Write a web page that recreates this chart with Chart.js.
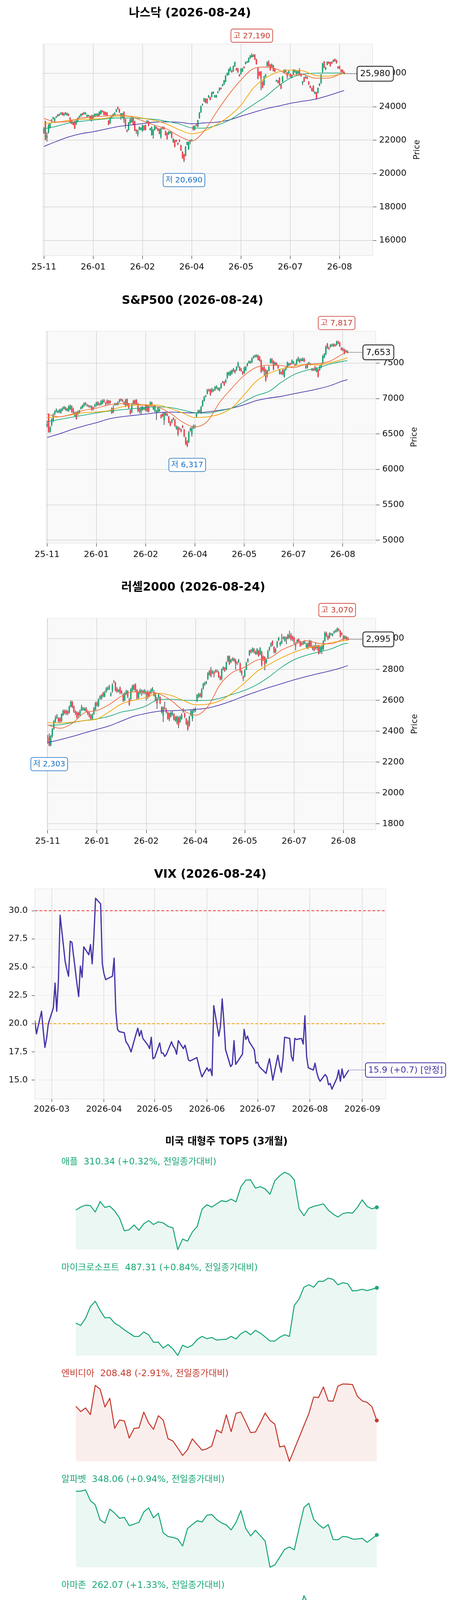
<!DOCTYPE html>
<html><head><meta charset="utf-8">
<script src="https://cdn.jsdelivr.net/npm/chart.js@4.4.1/dist/chart.umd.min.js"></script>
<style>
html,body{margin:0;padding:0;background:#fff;}
body{width:1159px;height:4311px;position:relative;overflow:hidden;}
canvas{position:absolute;left:0;}
</style></head><body>
<canvas id="c_ndx"></canvas><canvas id="c_spx"></canvas><canvas id="c_rut"></canvas><canvas id="c_vix"></canvas>
<canvas id="m0"></canvas><canvas id="m1"></canvas><canvas id="m2"></canvas><canvas id="m3"></canvas><canvas id="m4"></canvas>
<script>
// ===================== DATA =====================
const AS_OF = '2026-08-24';
const X_TICK_POS = [0,32,64,96,128,160,192];
const X_TICK_LABELS = ['25-11','26-01','26-02','26-04','26-05','26-07','26-08'];
const MA_IDX = [0,8,16,24,32,40,48,56,64,72,80,88,96,104,112,120,128,136,144,152,160,168,176,184,192,195];

const NDX_OPEN = [22427,23126,22155,22466,22777,23126,23282,23165,23359,23437,23537,23553,23646,23476,23646,23500,23553,23336,23165,23087,23126,22971,23126,23359,23437,23592,23553,23570,23413,23440,23437,23476,23320,23437,23490,23569,23476,23569,23747,23708,23670,23646,23165,23010,23320,23437,23515,23708,23996,23849,23476,23360,23685,23243,22606,22621,23010,23087,23282,23126,22621,22350,22621,22621,22544,22854,22893,23048,23126,22621,22310,22310,22621,22777,22700,22660,22194,22777,22777,22544,22427,22349,22427,22450,21883,21999,21999,21829,22015,21689,21301,21145,21068,21728,21456,21922,21961,22831,22660,22932,22815,23320,23670,24097,24330,24470,24470,24563,24563,24602,24796,24579,24579,24835,24967,25122,25247,25340,25495,25883,25922,26155,26155,26132,26427,26287,26287,25922,25961,26116,26388,26567,26644,26675,26909,26971,27009,27103,26831,26349,26077,26101,25495,25301,25806,26442,26676,26505,26388,26466,26272,25534,25557,25728,25340,25495,26039,26210,26039,26000,25961,25728,25961,26077,25961,26000,26155,25961,25417,25743,25728,25767,25495,25247,25107,25247,24796,24858,24835,25262,25417,26077,26699,26233,26520,26676,26660,26676,26699,26839,26776,26388,26427,26210,26194,26077];
const NDX_HIGH = [22777,23165,22466,22970,23050,23260,23400,23340,23450,23560,23580,23670,23680,23640,23690,23640,23600,23380,23200,23120,23160,23200,23360,23470,23590,23630,23690,23680,23540,23520,23470,23510,23510,23600,23600,23610,23720,23800,23790,23740,23700,23680,23200,23400,23470,23590,23660,23860,24005,23880,23620,23620,23720,23280,22640,23080,23280,23360,23320,23160,22650,22610,22810,22770,22930,22890,22920,23200,23160,22730,22810,22650,22890,22810,22730,22700,22730,22820,22810,22570,22460,22540,22540,22480,22110,22030,22030,21860,22050,21720,21330,21180,21640,21910,21920,22030,22060,22870,22880,22960,23210,23680,24060,24190,24530,24510,24500,24700,24600,24890,24920,24710,24720,24930,25160,25150,25360,25600,25880,26040,26270,26390,26190,26460,26700,26330,26320,25960,26300,26320,26420,26700,26740,26940,27090,27190,27150,27140,26870,26380,26110,26130,25530,25840,25950,26710,26780,26540,26580,26500,26310,25620,25590,25760,25370,25840,26230,26240,26070,26160,25990,25920,26240,26230,26150,26150,26300,25990,25540,25780,25840,25800,25530,25280,25140,25280,24920,24890,25150,25410,25950,26620,26730,26380,26710,26710,26690,26710,26830,26880,26810,26420,26460,26240,26230,26110];
const NDX_LOW = [22388,22016,21922,22400,22700,23080,23250,23130,23330,23410,23460,23530,23490,23450,23520,23470,23440,23040,22960,22900,22680,22930,23100,23330,23410,23490,23530,23540,23380,23420,23200,23130,23290,23410,23460,23410,23450,23540,23660,23490,23490,23450,22900,22980,23290,23410,23490,23680,23840,23640,23230,23330,23040,22700,22480,22590,22980,23060,22900,22550,22400,22230,22600,22600,22510,22590,22590,23020,22840,22590,22280,22100,22590,22670,22550,22360,22100,22660,22630,22280,22040,22320,22400,22120,21850,21580,21890,21720,21890,21360,20900,20690,21040,21700,21430,21760,21930,22590,22600,22840,22790,23300,23640,24070,24300,24220,24180,24530,24390,24570,24770,24550,24540,24810,24940,25040,25220,25310,25470,25860,25900,26120,26050,26100,26400,26160,26040,25810,25930,26090,26300,26540,26620,26650,26880,26950,26980,26800,26530,25660,25850,24990,25110,25270,25780,26420,26410,26160,26360,26120,26080,25500,25420,25300,25050,25470,26010,26050,25680,25970,25770,25700,25930,26050,25940,25970,25920,25810,25300,25480,25700,25660,25310,25110,24920,24880,24770,24450,24810,25240,25390,26050,26320,26210,26490,26570,26410,26570,26670,26710,26590,26280,26250,26070,26050,25950];
const NDX_CLOSE = [22699,22039,22271,22893,23010,23220,23360,23305,23413,23515,23490,23631,23515,23592,23553,23607,23476,23087,23010,22930,22699,23165,23320,23437,23553,23515,23646,23630,23500,23480,23243,23243,23476,23569,23569,23437,23693,23771,23693,23515,23515,23476,22932,23360,23437,23553,23631,23825,23864,23670,23592,23592,23243,22870,22544,23048,23243,23320,22932,22583,22544,22583,22777,22738,22893,22621,22621,23165,22870,22699,22777,22621,22854,22699,22580,22388,22699,22699,22660,22310,22077,22505,22505,22155,22077,21612,21922,21751,21922,21394,20928,20796,21611,21883,21883,21999,22015,22621,22839,22870,23180,23646,24020,24136,24485,24252,24252,24656,24423,24858,24889,24680,24680,24889,25122,25068,25324,25573,25844,26000,26233,26349,26077,26427,26660,26194,26077,25844,26272,26287,26334,26660,26699,26909,27048,27087,27087,26831,26559,25689,25883,25689,25145,25806,25922,26676,26442,26194,26543,26155,26116,25588,25456,25340,25107,25806,26194,26077,25844,26132,25806,25883,26210,26194,26116,26116,25945,25844,25510,25510,25806,25689,25340,25145,24951,24913,24889,24501,25122,25378,25922,26582,26349,26349,26676,26598,26442,26598,26800,26738,26621,26310,26287,26101,26077,25980];
const NDX_MA_A = [23305,23087,23126,23320,23398,23437,23514,23413,23165,22893,22660,22233,21961,22543,23670,24718,25604,26279,26380,26225,25891,25930,25712,25712,25945,26116];
const NDX_MA_B = [23009,23064,23188,23243,23266,23312,23452,23437,23320,23180,22955,22621,22388,22545,22932,23413,24097,25114,25720,26077,26194,26155,25883,25829,25938,25976];
const NDX_MA_C = [22683,22831,23025,23126,23204,23274,23336,23328,23305,23243,23126,22971,22738,22722,22885,23180,23639,24128,24610,25223,25712,25945,26008,26023,26023,26023];
const NDX_MA_D = [21627,21922,22194,22388,22505,22660,22815,22909,22994,23079,23095,23072,22986,23033,23079,23204,23437,23662,23879,24035,24206,24330,24447,24648,24889,24975];

const SPX_OPEN = [6613,6779,6530,6631,6686,6782,6819,6807,6807,6807,6838,6862,6871,6834,6825,6852,6889,6852,6760,6801,6779,6801,6856,6871,6898,6935,6898,6898,6882,6889,6871,6889,6904,6945,6912,6917,6935,6972,6935,6969,6967,6963,6862,6806,6912,6917,6917,6958,6996,6976,6945,6908,6985,6922,6834,6806,6926,6972,6978,6922,6852,6815,6843,6852,6834,6902,6889,6912,6940,6852,6825,6797,6815,6825,6769,6781,6696,6797,6782,6742,6668,6668,6719,6696,6576,6594,6566,6561,6613,6557,6447,6395,6387,6548,6502,6585,6594,6746,6797,6834,6797,6898,6972,7028,7074,7120,7125,7096,7120,7125,7148,7129,7120,7151,7236,7231,7231,7291,7336,7332,7354,7387,7397,7402,7452,7443,7415,7378,7360,7402,7465,7504,7507,7517,7576,7590,7592,7605,7590,7539,7439,7439,7402,7351,7397,7507,7554,7526,7480,7498,7461,7351,7369,7402,7310,7406,7443,7470,7494,7498,7498,7483,7489,7535,7550,7535,7535,7557,7434,7489,7489,7480,7415,7402,7446,7384,7410,7406,7443,7498,7581,7627,7771,7716,7734,7747,7766,7760,7760,7808,7790,7710,7701,7692,7660,7668];
const SPX_HIGH = [6686,6790,6610,6720,6790,6830,6860,6835,6852,6860,6880,6895,6885,6865,6905,6915,6905,6870,6815,6815,6830,6840,6890,6915,6945,6950,6925,6910,6905,6900,6885,6925,6955,6960,6940,6975,6990,6990,6950,6985,6980,6975,6875,6902,6940,6940,6960,6995,7000,6990,6960,6995,7000,6935,6845,6930,6980,6985,6990,6935,6865,6890,6895,6880,6920,6915,6900,6960,6955,6895,6910,6840,6885,6860,6780,6800,6810,6810,6795,6755,6680,6710,6735,6710,6620,6610,6595,6575,6625,6570,6460,6410,6540,6590,6600,6630,6630,6795,6840,6845,6895,6980,7035,7050,7135,7140,7140,7150,7135,7175,7185,7160,7158,7220,7250,7245,7275,7375,7380,7395,7410,7430,7410,7455,7520,7455,7430,7390,7450,7460,7505,7535,7535,7580,7605,7620,7625,7620,7600,7550,7450,7455,7415,7405,7460,7570,7570,7540,7520,7510,7475,7420,7385,7415,7415,7455,7520,7505,7505,7552,7530,7495,7560,7590,7565,7570,7580,7572,7475,7500,7520,7500,7430,7425,7460,7440,7420,7465,7495,7615,7640,7748,7785,7730,7770,7775,7780,7772,7817,7815,7800,7725,7720,7705,7690,7680];
const SPX_LOW = [6594,6520,6520,6610,6670,6770,6805,6795,6795,6790,6825,6850,6830,6820,6815,6840,6800,6790,6745,6705,6765,6790,6845,6860,6885,6905,6890,6875,6870,6830,6835,6875,6890,6900,6900,6905,6920,6945,6910,6920,6920,6930,6785,6795,6900,6905,6905,6945,6965,6950,6910,6880,6895,6860,6775,6795,6915,6915,6910,6810,6790,6780,6830,6840,6820,6810,6805,6900,6895,6840,6810,6700,6800,6815,6720,6740,6630,6755,6750,6655,6610,6655,6695,6600,6560,6470,6555,6525,6580,6455,6345,6317,6375,6535,6465,6570,6580,6735,6785,6795,6785,6885,6960,7020,7060,7100,7040,7085,7095,7110,7135,7115,7105,7140,7215,7180,7220,7280,7325,7320,7340,7375,7355,7390,7440,7390,7380,7335,7350,7390,7455,7495,7495,7505,7565,7580,7580,7540,7525,7365,7385,7320,7240,7300,7385,7495,7495,7400,7470,7465,7420,7340,7340,7330,7295,7395,7430,7460,7470,7485,7485,7455,7475,7525,7505,7525,7525,7515,7420,7425,7475,7470,7390,7390,7390,7370,7300,7395,7430,7485,7570,7615,7705,7690,7720,7735,7730,7735,7748,7772,7730,7680,7670,7625,7650,7640];
const SPX_CLOSE = [6640,6530,6594,6705,6769,6815,6843,6819,6838,6843,6862,6880,6843,6852,6889,6898,6815,6806,6801,6714,6815,6825,6875,6902,6930,6921,6908,6889,6893,6843,6852,6908,6941,6913,6923,6959,6976,6958,6922,6935,6935,6941,6797,6862,6926,6926,6945,6978,6976,6963,6926,6982,6911,6871,6788,6917,6963,6930,6926,6825,6825,6875,6880,6867,6908,6825,6819,6945,6908,6880,6898,6825,6871,6843,6732,6756,6797,6769,6764,6668,6622,6696,6708,6613,6603,6498,6579,6539,6594,6469,6358,6332,6524,6572,6585,6613,6613,6782,6825,6806,6880,6967,7022,7037,7120,7111,7055,7133,7111,7161,7172,7144,7142,7207,7225,7194,7262,7363,7369,7384,7397,7415,7369,7443,7502,7402,7397,7351,7434,7446,7494,7523,7522,7566,7590,7609,7609,7550,7539,7378,7402,7384,7262,7391,7446,7554,7507,7415,7507,7476,7434,7410,7351,7347,7402,7439,7507,7489,7480,7539,7517,7470,7544,7572,7517,7554,7563,7526,7461,7439,7507,7489,7402,7410,7402,7424,7310,7452,7480,7600,7627,7734,7720,7701,7756,7762,7742,7747,7797,7784,7742,7692,7686,7637,7673,7653];
const SPX_MA_A = [6782,6742,6779,6834,6865,6911,6928,6930,6904,6880,6792,6668,6600,6677,6945,7148,7328,7443,7472,7467,7437,7483,7493,7531,7631,7664];
const SPX_MA_B = [6732,6742,6771,6801,6810,6830,6880,6908,6911,6908,6860,6797,6732,6742,6779,6871,7055,7249,7354,7417,7456,7483,7474,7507,7554,7578];
const SPX_MA_C = [6673,6705,6736,6767,6797,6823,6841,6858,6875,6884,6873,6839,6801,6795,6827,6867,6958,7044,7101,7229,7336,7397,7435,7489,7526,7535];
const SPX_MA_D = [6452,6502,6563,6614,6659,6712,6742,6762,6782,6801,6810,6803,6797,6812,6834,6865,6913,6972,7007,7031,7068,7101,7138,7184,7249,7267];

const RUT_OPEN = [2349,2364,2311,2369,2417,2463,2488,2484,2482,2467,2505,2531,2531,2527,2522,2560,2590,2560,2527,2520,2518,2505,2537,2539,2535,2546,2527,2518,2501,2482,2514,2541,2585,2564,2611,2613,2647,2625,2657,2670,2676,2632,2659,2720,2712,2674,2659,2680,2659,2636,2602,2644,2657,2606,2611,2665,2697,2701,2665,2617,2649,2650,2660,2649,2649,2653,2649,2650,2661,2653,2602,2611,2619,2619,2554,2501,2552,2541,2520,2515,2497,2510,2509,2470,2456,2487,2463,2480,2527,2514,2480,2461,2438,2505,2482,2531,2535,2598,2623,2640,2623,2678,2703,2712,2740,2767,2796,2779,2783,2785,2792,2782,2754,2739,2800,2809,2802,2855,2885,2849,2861,2869,2861,2844,2849,2838,2790,2754,2758,2800,2852,2895,2923,2918,2931,2914,2900,2920,2900,2911,2883,2878,2844,2876,2928,2952,2982,2945,2914,2948,2990,2960,2973,3003,2987,3008,3003,3021,3024,3011,3007,2969,2977,2996,2979,2969,2967,2969,2945,2969,2952,2982,2948,2950,2939,2941,2952,2914,2927,2933,2987,3036,3015,3007,3028,3021,3038,3046,3049,3060,3049,3034,3015,3003,3009,3003];
const RUT_HIGH = [2375,2385,2375,2420,2470,2500,2510,2490,2490,2515,2540,2540,2540,2535,2565,2598,2595,2565,2535,2528,2525,2540,2570,2555,2555,2555,2535,2525,2510,2515,2555,2590,2592,2612,2632,2640,2655,2660,2685,2690,2700,2652,2710,2731,2720,2685,2672,2690,2665,2645,2652,2668,2665,2615,2680,2700,2705,2710,2672,2660,2675,2670,2668,2672,2660,2665,2660,2675,2685,2665,2650,2620,2645,2625,2560,2560,2590,2550,2525,2520,2528,2530,2515,2498,2500,2495,2500,2515,2548,2520,2485,2470,2500,2540,2540,2548,2555,2640,2648,2648,2678,2712,2720,2725,2782,2795,2815,2795,2790,2800,2800,2790,2760,2806,2820,2815,2852,2890,2890,2868,2878,2875,2868,2852,2868,2845,2795,2760,2800,2848,2872,2926,2930,2942,2938,2920,2938,2927,2944,2920,2890,2885,2870,2926,2948,2975,2988,2950,2938,2985,3010,2980,3030,3015,3015,3012,3030,3050,3035,3020,3012,2975,2995,3000,2985,2975,2985,2990,2970,2975,2992,2988,2955,2958,2975,2958,2960,2950,2958,2990,3045,3045,3022,3040,3036,3035,3052,3058,3070,3066,3055,3040,3022,3020,3015,3010];
const RUT_LOW = [2320,2303,2303,2360,2410,2455,2480,2455,2455,2460,2500,2510,2505,2505,2515,2555,2550,2520,2505,2480,2490,2500,2530,2535,2530,2522,2505,2490,2475,2475,2505,2535,2560,2558,2605,2605,2620,2620,2650,2665,2668,2625,2650,2712,2658,2650,2652,2640,2640,2590,2595,2635,2615,2565,2600,2655,2665,2655,2605,2610,2640,2630,2640,2640,2600,2610,2620,2640,2655,2625,2595,2545,2610,2575,2515,2460,2540,2515,2475,2465,2490,2500,2470,2462,2445,2420,2455,2475,2520,2485,2440,2404,2430,2498,2465,2520,2525,2590,2615,2620,2615,2670,2695,2705,2732,2760,2750,2770,2750,2778,2780,2745,2730,2730,2795,2785,2795,2848,2830,2842,2855,2850,2800,2830,2842,2780,2760,2725,2750,2795,2845,2888,2905,2910,2905,2895,2895,2883,2893,2820,2855,2795,2838,2870,2920,2945,2952,2905,2905,2940,2985,2952,2965,2995,2980,2965,2995,3000,2987,2985,2965,2925,2970,2975,2948,2955,2960,2965,2938,2932,2945,2940,2925,2918,2930,2925,2898,2905,2900,2925,2980,3010,2990,3000,3022,3015,3032,3040,3042,3048,3008,3020,2988,2995,2990,2988];
const RUT_CLOSE = [2345,2307,2369,2414,2465,2484,2499,2465,2463,2510,2531,2518,2518,2514,2557,2590,2557,2529,2518,2489,2505,2531,2557,2547,2547,2531,2515,2499,2482,2507,2547,2581,2569,2605,2625,2634,2628,2650,2676,2678,2690,2644,2699,2718,2665,2657,2665,2649,2650,2600,2644,2660,2623,2573,2670,2691,2674,2665,2613,2649,2665,2660,2652,2665,2640,2619,2627,2665,2676,2632,2644,2581,2636,2583,2524,2554,2547,2524,2482,2478,2520,2518,2476,2490,2493,2440,2493,2505,2539,2493,2448,2413,2493,2531,2531,2539,2541,2632,2640,2627,2670,2706,2712,2718,2775,2788,2760,2787,2771,2792,2787,2754,2737,2800,2813,2794,2844,2885,2836,2861,2869,2858,2838,2841,2861,2790,2771,2743,2792,2842,2866,2920,2914,2935,2914,2903,2931,2889,2937,2830,2866,2834,2863,2920,2942,2967,2960,2914,2930,2979,3004,2973,2986,3007,3007,3003,3024,3009,2996,2996,2977,2954,2990,2981,2954,2962,2977,2977,2962,2939,2986,2948,2937,2925,2950,2950,2903,2944,2950,2982,3036,3018,2998,3034,3030,3028,3045,3051,3066,3055,3015,3028,2994,3015,2996,2995];
const RUT_MA_A = [2440,2419,2451,2520,2534,2573,2628,2655,2651,2643,2600,2535,2504,2560,2703,2781,2815,2861,2874,2926,2960,2986,2969,2966,2997,3003];
const RUT_MA_B = [2455,2453,2459,2469,2479,2526,2577,2601,2619,2646,2632,2600,2571,2575,2598,2649,2715,2787,2834,2876,2912,2938,2953,2973,2986,2990];
const RUT_MA_C = [2438,2442,2456,2469,2480,2497,2524,2539,2564,2605,2607,2601,2599,2600,2614,2639,2665,2702,2754,2815,2863,2892,2913,2933,2965,2969];
const RUT_MA_D = [2326,2345,2366,2389,2412,2434,2466,2497,2515,2529,2533,2536,2541,2550,2571,2598,2629,2657,2684,2708,2733,2754,2774,2792,2815,2826];

const VIX_YEAR = 2026;
const VIX_DATES = ['02-19','02-20','02-23','02-24','02-25','02-26','02-27',
'03-02','03-03','03-04','03-05','03-06','03-09','03-10','03-11','03-12','03-13','03-16','03-17','03-18','03-19','03-20','03-23','03-24','03-25','03-26','03-27','03-30','03-31','04-01','04-02',
'04-06','04-07','04-08','04-09','04-10','04-13','04-14','04-15','04-16','04-17','04-20','04-21','04-22','04-23','04-24','04-27','04-28','04-29','04-30','05-01',
'05-04','05-05','05-06','05-07','05-08','05-11','05-12','05-13','05-14','05-15','05-18','05-19','05-20','05-21','05-22','05-26','05-27','05-28','05-29',
'06-01','06-02','06-03','06-04','06-05','06-08','06-09','06-10','06-11','06-12','06-15','06-16','06-17','06-18','06-22','06-23','06-24','06-25','06-26','06-29','06-30','07-01','07-02',
'07-06','07-07','07-08','07-09','07-10','07-13','07-14','07-15','07-16','07-17','07-20','07-21','07-22','07-23','07-24','07-27','07-28','07-29','07-30','07-31',
'08-03','08-04','08-05','08-06','08-07','08-10','08-11','08-12','08-13','08-14','08-17','08-18','08-19','08-20','08-21','08-24'];
const VIX_VALUES = [20.3,19.1,21.1,19.4,17.9,18.7,20.0,
21.4,23.6,21.1,23.8,29.6,25.5,24.8,24.2,27.3,27.2,23.5,22.4,25.1,24.1,26.8,26.1,27.0,25.3,27.7,31.1,30.6,25.3,24.4,23.9,
24.2,25.8,21.1,19.5,19.3,19.2,18.4,18.2,17.9,17.5,19.1,19.6,18.9,19.4,18.7,18.1,17.8,18.8,16.9,17.0,
18.3,17.4,17.4,17.1,17.3,18.4,18.0,17.8,17.3,18.5,17.8,18.1,17.5,16.8,16.7,17.0,16.4,15.8,15.3,
16.1,15.8,16.0,15.4,21.6,18.9,19.8,22.2,20.2,17.7,16.2,16.4,18.5,16.4,17.3,19.5,18.6,18.9,18.4,17.7,16.5,16.6,16.2,
15.6,16.3,16.9,16.0,15.0,17.2,16.3,15.7,16.9,18.8,18.7,17.1,16.7,18.7,18.6,18.7,18.2,20.7,17.1,16.1,
15.9,16.5,15.7,15.2,14.9,15.5,15.3,14.6,14.7,14.2,15.2,15.9,14.9,16.0,15.2,15.9];
const VIX_MONTHS = ['2026-03','2026-04','2026-05','2026-06','2026-07','2026-08','2026-09'];
const VIX_Y_TICKS = [15,17.5,20,22.5,25,27.5,30];
const VIX_LEVELS = [30,20];
const VIX_STATE = '안정';

const TOP5_NAMES = ['애플','마이크로소프트','엔비디아','알파벳','아마존'];
const TOP5_CHG = [0.32,0.84,-2.91,0.94,1.33];
const AAPL = [308.8,310.5,311.6,311.3,307.7,313.6,310.3,311.0,308.3,304.3,297.0,297.6,300.3,297.3,301.0,302.8,300.6,302.1,301.5,299.5,298.7,286.3,292.3,291.1,296.3,299.5,309.3,311.8,310.5,312.3,314.1,313.6,315.0,313.5,322.0,325.8,326.0,321.3,322.1,320.8,317.8,325.5,328.3,330.3,329.1,326.0,309.5,305.6,309.8,310.9,311.6,312.3,308.8,306.5,304.8,306.8,307.3,307.1,310.3,314.6,310.9,309.5,310.34];
const MSFT = [447.3,444.7,452.7,466.1,472.1,461.7,453.3,453.7,447.3,444.1,439.7,436.1,432.3,432.3,437.3,434.1,425.7,425.7,419.1,423.1,418.1,410.7,422.3,419.7,422.3,428.7,432.3,429.7,431.1,428.1,428.7,429.1,432.3,429.3,435.3,438.3,434.1,439.1,436.1,431.7,427.1,427.1,431.3,434.1,432.3,467.3,474.7,488.1,490.7,488.1,494.7,494.7,498.3,496.9,490.7,493.1,492.1,483.7,484.3,485.7,484.1,485.7,487.31];
const NVDA = [218.7,214.9,217.5,212.7,233.7,231.0,218.2,224.4,202.9,208.8,208.2,195.9,202.8,203.2,214.5,206.7,202.2,211.9,208.8,195.4,193.8,188.7,183.4,187.5,195.3,191.2,187.2,188.2,190.2,201.7,199.6,212.5,200.5,213.7,214.6,207.3,199.8,200.2,206.7,213.9,208.6,205.8,189.6,190.3,179.2,187.8,196.3,204.9,213.4,225.3,225.0,232.6,222.6,222.4,233.2,234.7,234.6,234.3,225.9,222.6,221.5,218.4,208.48];
const GOOGL = [379.6,379.6,380.6,372.8,369.8,358.9,356.6,366.7,363.8,360.1,360.7,354.8,355.9,357.1,364.6,367.6,360.4,363.7,349.6,346.9,346.3,345.1,340.1,352.6,355.6,358.3,357.4,362.3,362.8,359.2,356.8,355.3,351.7,357.1,365.6,352.9,347.3,351.4,347.6,343.6,324.8,326.5,332.0,337.6,339.4,337.3,352.9,367.9,370.9,359.3,355.6,352.9,355.6,344.8,344.6,347.0,346.6,345.1,345.1,345.7,342.7,345.3,348.06];
const AMZN = [264.5,269.6,271.4,268.8,261.6,257.6,252.8,255.8,249.8,249.2,248.4,243.6,246.5,243.8,249.8,249.8,243.2,248.6,239.6,240.7,240.7,234.8,239.6,245.3,243.8,246.5,247.2,248.3,249.6,247.8,250.4,249.2,250.8,250.8,256.8,252.8,250.5,252.9,251.0,248.9,240.2,239.4,238.8,238.2,234.6,241.4,270.0,279.2,273.8,270.2,270.0,272.0,274.7,270.2,266.0,264.5,262.7,261.6,260.0,265.2,260.6,259.7,262.07];

// ===================== STYLE =====================
const FONT = "'DejaVu Sans','Noto Sans CJK KR',sans-serif";
const C_UP = '#12a46d', C_DN = '#f43a46', C_WICK = '#4a4a4a';
const MA_COLORS = ['#f06b3e','#f4a300','#1fa97b','#4b3bad'];
const GRID = '#cdcdcd', PLOT_BG = '#f9f9f9', FRAME = '#e4e4e4', TXT = '#111';
Chart.defaults.font.family = FONT;

function drawBox(ctx, text, cx, cy, o) {
  ctx.save();
  ctx.font = o.size + 'px ' + FONT;
  const w = ctx.measureText(text).width + 2 * o.padX, h = o.h;
  const x = (o.left !== undefined) ? o.left : cx - w / 2;
  const y = cy - h / 2;
  ctx.beginPath(); ctx.roundRect(x, y, w, h, o.r || 5);
  ctx.fillStyle = '#fff'; ctx.fill();
  ctx.lineWidth = o.lw; ctx.strokeStyle = o.color; ctx.stroke();
  ctx.fillStyle = o.color; ctx.textAlign = 'center'; ctx.textBaseline = 'middle';
  ctx.fillText(text, x + w / 2, cy + 1);
  ctx.restore();
  return {x: x, y: y, w: w, h: h};
}
function areaBg(color) {
  return {id: 'areabg', beforeDraw(chart) {
    const a = chart.chartArea, ctx = chart.ctx;
    ctx.save(); ctx.fillStyle = color; ctx.fillRect(a.left, a.top, a.right - a.left, a.bottom - a.top); ctx.restore();
  }};
}
function fmt(v) { return Math.round(v).toLocaleString('en-US'); }
function dayOffset(y, mmdd) {
  const p = mmdd.split('-').map(Number);
  return (Date.UTC(y, p[0] - 1, p[1]) - Date.UTC(VIX_YEAR, 2, 1)) / 86400000;
}

// ===================== CANDLE CHARTS =====================
function candleChart(id, top, height, c) {
  const cv = document.getElementById(id);
  cv.width = 1159; cv.height = height; cv.style.top = top + 'px';
  const n = c.close.length;
  const wick = c.close.map((v, i) => ({x: i, y: [c.low[i], c.high[i]]}));
  const body = c.close.map((v, i) => ({x: i, y: [c.open[i], v]}));
  const bodyCol = c.close.map((v, i) => v >= c.open[i] ? C_UP : C_DN);
  const maSets = c.ma.map((arr, k) => ({
    type: 'line', data: arr.map((v, j) => ({x: MA_IDX[j], y: v})),
    borderColor: MA_COLORS[k], borderWidth: 1.8, pointRadius: 0,
    cubicInterpolationMode: 'monotone', order: 1
  }));
  let hi = 0, lo = 0;
  for (let i = 1; i < n; i++) { if (c.high[i] > c.high[hi]) hi = i; if (c.low[i] < c.low[lo]) lo = i; }
  const decor = {id: 'decor', afterDraw(chart) {
    const ctx = chart.ctx, a = chart.chartArea, xs = chart.scales.x, ys = chart.scales.y;
    ctx.save();
    ctx.strokeStyle = FRAME; ctx.lineWidth = 1;
    ctx.strokeRect(a.left, a.top, a.right - a.left, a.bottom - a.top);
    ctx.fillStyle = '#000'; ctx.textAlign = 'center'; ctx.textBaseline = 'middle';
    ctx.font = 'bold 30px ' + FONT;
    ctx.fillText(c.title + ' (' + AS_OF + ')', c.titleX, c.titleY);
    ctx.translate(c.priceX, (a.top + a.bottom) / 2);
    ctx.rotate(-Math.PI / 2);
    ctx.font = '21px ' + FONT; ctx.fillStyle = TXT;
    ctx.fillText('Price', 0, 0);
    ctx.restore();
    drawBox(ctx, '고 ' + fmt(c.high[hi]), xs.getPixelForValue(hi), ys.getPixelForValue(c.high[hi]) - 45.5,
      {size: 20, padX: 6, h: 34, lw: 1.6, color: '#c8392c'});
    drawBox(ctx, '저 ' + fmt(c.low[lo]), xs.getPixelForValue(lo), ys.getPixelForValue(c.low[lo]) + 46,
      {size: 20, padX: 6, h: 34, lw: 1.6, color: '#1c6fc0'});
    const last = c.close[n - 1], ly = ys.getPixelForValue(last);
    ctx.save(); ctx.font = '22px ' + FONT;
    const bw = ctx.measureText(fmt(last)).width + 16;
    ctx.restore();
    const bl = a.right + 7 - bw / 2;
    ctx.save(); ctx.strokeStyle = '#222'; ctx.lineWidth = 1.5; ctx.setLineDash([2, 2]);
    ctx.beginPath(); ctx.moveTo(xs.getPixelForValue(n - 1) + 2, ly); ctx.lineTo(bl, ly); ctx.stroke(); ctx.restore();
    drawBox(ctx, fmt(last), 0, ly, {size: 22, padX: 8, h: 38, lw: 2, color: '#111', left: bl, r: 6});
  }};
  return new Chart(cv, {
    type: 'bar',
    data: {datasets: [
      {data: wick, backgroundColor: C_WICK, barThickness: 1.1, grouped: false, order: 4},
      {data: body, backgroundColor: bodyCol, barThickness: 2.8, grouped: false, minBarLength: 1, order: 3}
    ].concat(maSets)},
    options: {
      responsive: false, animation: false, devicePixelRatio: 1, events: [],
      layout: {padding: {left: c.area.left, top: c.area.top, right: 0, bottom: 0}},
      plugins: {legend: {display: false}, tooltip: {enabled: false}},
      scales: {
        x: {type: 'linear', min: c.xMin, max: c.xMax, offset: false,
          grid: {color: GRID, lineWidth: 1.3, offset: false, tickLength: 9, tickColor: '#333', tickWidth: 1.2},
          border: {display: true, color: FRAME},
          ticks: {autoSkip: false, maxRotation: 0, padding: 8, color: TXT, font: {size: 22, family: FONT},
            callback: v => X_TICK_LABELS[X_TICK_POS.indexOf(v)]},
          afterBuildTicks: s => { s.ticks = X_TICK_POS.map(v => ({value: v})); },
          afterFit: s => { s.height = height - c.area.bottom; }
        },
        y: {type: 'linear', position: 'right', min: c.yMin, max: c.yMax,
          grid: {color: GRID, lineWidth: 1.3, tickLength: 10, tickColor: '#333', tickWidth: 1.2},
          border: {display: true, color: FRAME},
          ticks: {padding: 7, color: TXT, font: {size: 22, family: FONT}, callback: v => String(v)},
          afterBuildTicks: s => { s.ticks = c.yTicks.map(v => ({value: v})); },
          afterFit: s => { s.width = 1159 - c.area.right; }
        }
      }
    },
    plugins: [areaBg(PLOT_BG), decor]
  });
}

candleChart('c_ndx', 0, 720, {
  title: '나스닥', titleX: 486, titleY: 34, priceX: 1068,
  open: NDX_OPEN, high: NDX_HIGH, low: NDX_LOW, close: NDX_CLOSE,
  ma: [NDX_MA_A, NDX_MA_B, NDX_MA_C, NDX_MA_D],
  area: {left: 109.4, right: 953, top: 112.5, bottom: 654},
  xMin: -0.74, xMax: 213.4, yMin: 15105, yMax: 27759,
  yTicks: [16000, 18000, 20000, 22000, 24000, 26000]
});
candleChart('c_spx', 720, 720, {
  title: 'S&P500', titleX: 492.6, titleY: 50.5, priceX: 1060.6,
  open: SPX_OPEN, high: SPX_HIGH, low: SPX_LOW, close: SPX_CLOSE,
  ma: [SPX_MA_A, SPX_MA_B, SPX_MA_C, SPX_MA_D],
  area: {left: 118, right: 961, top: 127.6, bottom: 670},
  xMin: -0.63, xMax: 213.3, yMin: 4961, yMax: 7953,
  yTicks: [5000, 5500, 6000, 6500, 7000, 7500]
});
candleChart('c_rut', 1440, 740, {
  title: '러셀2000', titleX: 494.5, titleY: 64, priceX: 1062,
  open: RUT_OPEN, high: RUT_HIGH, low: RUT_LOW, close: RUT_CLOSE,
  ma: [RUT_MA_A, RUT_MA_B, RUT_MA_C, RUT_MA_D],
  area: {left: 120.5, right: 961, top: 143, bottom: 684},
  xMin: -0.38, xMax: 212.95, yMin: 1762, yMax: 3131,
  yTicks: [1800, 2000, 2200, 2400, 2600, 2800, 3000]
});

// ===================== VIX =====================
(function () {
  const cv = document.getElementById('c_vix');
  const H = 690, area = {left: 89, right: 987, top: 95, bottom: 633};
  cv.width = 1159; cv.height = H; cv.style.top = '2180px';
  const xMin = -10, xMax = 197.9;
  const pts = VIX_DATES.map((d, i) => ({x: dayOffset(VIX_YEAR, d), y: VIX_VALUES[i]}));
  const monthTicks = VIX_MONTHS.map(m => dayOffset(+m.slice(0, 4), m.slice(5) + '-01'));
  const levelCols = ['#f04848', '#f2a20c'];
  const levelSets = VIX_LEVELS.map((lv, k) => ({
    type: 'line', data: [{x: xMin, y: lv}, {x: xMax, y: lv}], borderColor: levelCols[k],
    borderWidth: 2.2, borderDash: [7, 5], pointRadius: 0, order: 2
  }));
  const decor = {id: 'decor', afterDraw(chart) {
    const ctx = chart.ctx, a = chart.chartArea, xs = chart.scales.x, ys = chart.scales.y;
    ctx.save();
    ctx.strokeStyle = FRAME; ctx.lineWidth = 1;
    ctx.strokeRect(a.left, a.top, a.right - a.left, a.bottom - a.top);
    ctx.fillStyle = '#000'; ctx.textAlign = 'center'; ctx.textBaseline = 'middle';
    ctx.font = 'bold 30px ' + FONT;
    ctx.fillText('VIX (' + AS_OF + ')', 538, 59);
    ctx.restore();
    const n = VIX_VALUES.length, last = VIX_VALUES[n - 1], prev = VIX_VALUES[n - 2];
    const d = last - prev;
    const txt = last.toFixed(1) + ' (' + (d >= 0 ? '+' : '') + d.toFixed(1) + ') [' + VIX_STATE + ']';
    const ly = ys.getPixelForValue(last), lx = xs.getPixelForValue(pts[n - 1].x);
    const bl = a.right - 52;
    ctx.save(); ctx.strokeStyle = '#4a3aaa'; ctx.lineWidth = 1.5; ctx.setLineDash([2, 2]);
    ctx.beginPath(); ctx.moveTo(lx + 3, ly); ctx.lineTo(bl, ly); ctx.stroke(); ctx.restore();
    drawBox(ctx, txt, 0, ly, {size: 22, padX: 7, h: 37, lw: 2, color: '#3f30a2', left: bl, r: 6});
  }};
  new Chart(cv, {
    type: 'line',
    data: {datasets: [
      {data: pts, borderColor: '#4636a8', borderWidth: 3.2, pointRadius: 0, borderJoinStyle: 'round', tension: 0, order: 1}
    ].concat(levelSets)},
    options: {
      responsive: false, animation: false, devicePixelRatio: 1, events: [],
      layout: {padding: {left: 0, top: area.top, right: 1159 - area.right, bottom: 0}},
      plugins: {legend: {display: false}, tooltip: {enabled: false}},
      scales: {
        x: {type: 'linear', min: xMin, max: xMax,
          grid: {color: '#d3d3d3', lineWidth: 1.2, tickLength: 8, tickColor: '#333', tickWidth: 1.2},
          border: {display: true, color: FRAME},
          ticks: {autoSkip: false, maxRotation: 0, padding: 6, color: TXT, font: {size: 22, family: FONT},
            callback: v => VIX_MONTHS[monthTicks.indexOf(v)]},
          afterBuildTicks: s => { s.ticks = monthTicks.map(v => ({value: v})); },
          afterFit: s => { s.height = H - area.bottom; }
        },
        y: {type: 'linear', position: 'left', min: 13.35, max: 31.95,
          grid: {color: '#ebebeb', lineWidth: 1.6, tickLength: 8, tickColor: '#333', tickWidth: 1.2},
          border: {display: true, color: FRAME},
          ticks: {padding: 10, color: TXT, font: {size: 22, family: FONT}, callback: v => Number(v).toFixed(1)},
          afterBuildTicks: s => { s.ticks = VIX_Y_TICKS.map(v => ({value: v})); },
          afterFit: s => { s.width = area.left; }
        }
      }
    },
    plugins: [areaBg('#fafafa'), decor]
  });
})();

// ===================== TOP5 =====================
function miniChart(id, canvasTop, areaTop, height, values, k, head) {
  const cv = document.getElementById(id);
  cv.width = 1159; cv.height = height; cv.style.top = canvasTop + 'px';
  const up = TOP5_CHG[k] >= 0;
  const col = up ? '#19a873' : '#c53a2e';
  const fillCol = up ? 'rgba(25,168,115,0.085)' : 'rgba(197,58,46,0.085)';
  const n = values.length;
  const areaBottom = areaTop + 198;
  const decor = {id: 'decor', afterDraw(chart) {
    const ctx = chart.ctx, a = chart.chartArea;
    ctx.save();
    if (head) {
      ctx.fillStyle = '#000'; ctx.textAlign = 'center'; ctx.textBaseline = 'middle';
      ctx.font = 'bold 26px ' + FONT;
      ctx.fillText(head.text, head.x, head.y);
    }
    const chg = TOP5_CHG[k];
    const label = TOP5_NAMES[k] + '  ' + values[n - 1].toFixed(2) + ' (' + (chg >= 0 ? '+' : '') + chg.toFixed(2) + '%, 전일종가대비)';
    ctx.fillStyle = col; ctx.textAlign = 'left'; ctx.textBaseline = 'middle';
    ctx.font = '23px ' + FONT;
    ctx.fillText(label, 157, a.top - 26);
    ctx.restore();
  }};
  new Chart(cv, {
    type: 'line',
    data: {datasets: [{
      data: values.map((v, i) => ({x: i, y: v})), borderColor: col, borderWidth: 2.6,
      pointRadius: values.map((v, i) => i === n - 1 ? 5 : 0), pointBackgroundColor: col, pointBorderWidth: 0,
      fill: 'start', backgroundColor: fillCol, tension: 0, clip: false, borderJoinStyle: 'round'
    }]},
    options: {
      responsive: false, animation: false, devicePixelRatio: 1, events: [],
      layout: {padding: {left: 194, right: 1159 - 964, top: areaTop, bottom: height - areaBottom}},
      plugins: {legend: {display: false}, tooltip: {enabled: false}},
      scales: {
        x: {type: 'linear', display: false, min: 0, max: n - 1},
        y: {type: 'linear', display: false, min: Math.min(...values), max: Math.max(...values)}
      }
    },
    plugins: [decor]
  });
}
const TOP5_SERIES = [AAPL, MSFT, NVDA, GOOGL, AMZN];
miniChart('m0', 2880, 121, 336, TOP5_SERIES[0], 0, {text: '미국 대형주 TOP5 (3개월)', x: 579.5, y: 43});
miniChart('m1', 3216, 56, 271, TOP5_SERIES[1], 1);
miniChart('m2', 3487, 56, 271, TOP5_SERIES[2], 2);
miniChart('m3', 3758, 56, 271, TOP5_SERIES[3], 3);
miniChart('m4', 4029, 56, 271, TOP5_SERIES[4], 4);
</script>
</body></html>
